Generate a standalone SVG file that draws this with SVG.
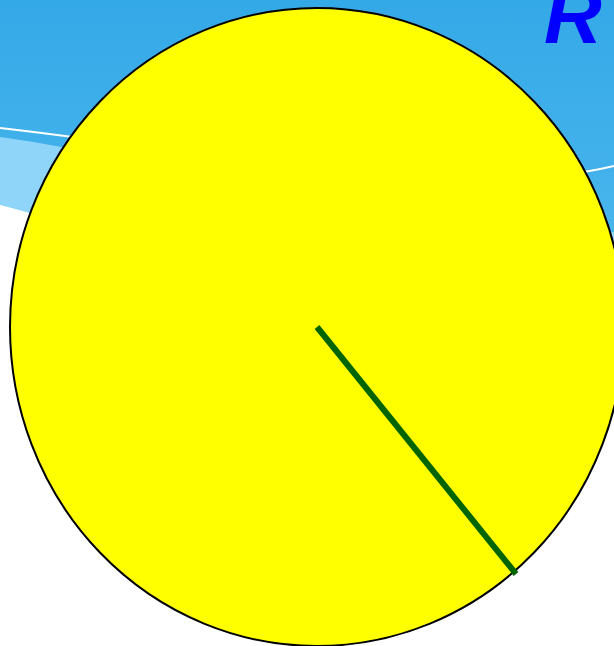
<svg xmlns="http://www.w3.org/2000/svg" width="614" height="646" viewBox="0 0 614 646">
  <defs>
    <linearGradient id="sky" x1="0" y1="0" x2="0" y2="1">
      <stop offset="0" stop-color="#34A9E7"/>
      <stop offset="1" stop-color="#6CCAF8"/>
    </linearGradient>
    <style>
      .title { font-family: "Liberation Sans", Arial, sans-serif; font-weight: bold; font-style: italic; font-size: 80px; fill: #0000FF; }
    </style>
  </defs>
  <g id="background">
    <rect x="0" y="0" width="614" height="646" fill="url(#sky)"/>
    <path d="M0,137 C200,165 450,250 614,232 L614,646 L0,646 Z" fill="#8FD4F9"/>
    <path d="M0,205 C150,245 450,330 614,320 L614,646 L0,646 Z" fill="#FFFFFF"/>
    <path d="M0,128 C200,150 450,205 614,166" fill="none" stroke="#FFFFFF" stroke-width="2"/>
    <text class="title" x="544" y="43">R</text>
  </g>
  <g id="circle">
    <ellipse cx="317" cy="327" rx="307" ry="319" fill="#FFFF00" stroke="#000000" stroke-width="2"/>
  </g>
  <g id="connectors">
    <line x1="317" y1="327" x2="516" y2="574" stroke="#006400" stroke-width="6"/>
  </g>
</svg>
